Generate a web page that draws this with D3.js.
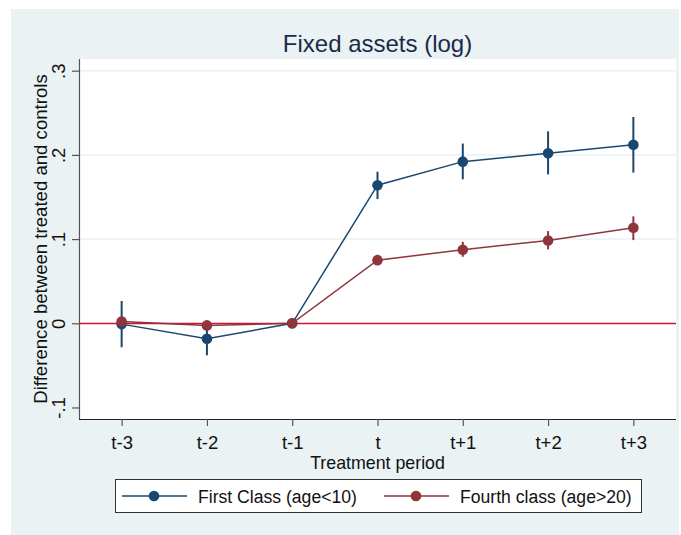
<!DOCTYPE html>
<html>
<head>
<meta charset="utf-8">
<script src="https://cdn.jsdelivr.net/npm/d3@7"></script>
<style>
  html, body { margin: 0; padding: 0; background: #ffffff; }
  svg { display: block; font-family: "Liberation Sans", Arial, sans-serif; }
</style>
</head>
<body>
<svg id="chart" width="681" height="535"></svg>
<script>
// ---------- data ----------
const periods = ["t-3", "t-2", "t-1", "t", "t+1", "t+2", "t+3"];
const firstClass     = [-0.001, -0.0185, 0.000, 0.164, 0.192, 0.202, 0.212];
const firstClassLo   = [-0.0285, -0.038, 0.000, 0.1475, 0.171, 0.1768, 0.179];
const firstClassHi   = [0.0265, 0.001, 0.000, 0.180, 0.2135, 0.228, 0.245];
const fourthClass    = [0.002, -0.0025, 0.000, 0.075, 0.0873, 0.0984, 0.1134];
const fourthClassLo  = [-0.001, -0.005, 0.000, 0.0715, 0.079, 0.0878, 0.0988];
const fourthClassHi  = [0.005, 0.000, 0.000, 0.0785, 0.0968, 0.1095, 0.127];
const yTicks = [-0.1, 0, 0.1, 0.2, 0.3];
const yTickLabels = ["-.1", "0", ".1", ".2", ".3"];
const seriesNames = ["First Class (age<10)", "Fourth class (age>20)"];

// ---------- layout ----------
const svg = d3.select("#chart");
const BG = "#eaf2f3";
const BLUE = "#1a476f";
const RED = "#90353b";
const ZERO = "#d0123a";
const plot = { left: 79, top: 59, right: 676, bottom: 419 };

// outer background
svg.append("rect").attr("x", 11).attr("y", 9).attr("width", 668).attr("height", 526).attr("fill", BG);
// plot region
svg.append("rect").attr("x", plot.left).attr("y", plot.top)
  .attr("width", plot.right - plot.left).attr("height", plot.bottom - plot.top).attr("fill", "#ffffff");

const x = d3.scalePoint().domain(periods).range([plot.left, plot.right]).padding(0.5);
const y = d3.scaleLinear().domain([-0.1137, 0.3139]).range([plot.bottom, plot.top]);

// gridlines
svg.append("g").selectAll("line").data(yTicks.filter(d => d > 0)).join("line")
  .attr("x1", plot.left).attr("x2", plot.right)
  .attr("y1", d => y(d)).attr("y2", d => y(d))
  .attr("stroke", BG).attr("stroke-width", 1.5);

// zero line
const y0 = Math.floor(y(0)) + 0.5;
svg.append("line").attr("x1", plot.left).attr("x2", plot.right)
  .attr("y1", y0).attr("y2", y0).attr("stroke", ZERO).attr("stroke-width", 1.6);

// axes
const yAxis = d3.axisLeft(y).tickValues(yTicks).tickSize(7)
  .tickFormat((d, i) => yTickLabels[i]);
const gy = svg.append("g").attr("transform", `translate(${plot.left},0)`).call(yAxis);
gy.select(".domain").attr("stroke", "#555").attr("stroke-width", 1.2).attr("d", `M0.5,${plot.top}V${plot.bottom}`);
gy.selectAll(".tick line").attr("stroke", "#555").attr("stroke-width", 1.2);
gy.selectAll(".tick text")
  .attr("transform", "rotate(-90)")
  .attr("x", 0).attr("y", -14).attr("dy", 0)
  .attr("text-anchor", "middle")
  .attr("font-size", 18.5).attr("fill", "#111")
  .attr("font-family", "Liberation Sans, Arial, sans-serif");

const xAxis = d3.axisBottom(x).tickSize(7);
const gx = svg.append("g").attr("transform", `translate(0,${plot.bottom})`).call(xAxis);
gx.select(".domain").attr("stroke", "#222").attr("stroke-width", 1.2).attr("d", `M${plot.left},0.5H${plot.right}`);
gx.selectAll(".tick line").attr("stroke", "#555").attr("stroke-width", 1.2);
gx.selectAll(".tick text").attr("y", 30).attr("dy", 0)
  .attr("font-size", 18.5).attr("fill", "#111")
  .attr("font-family", "Liberation Sans, Arial, sans-serif");

// axis titles
svg.append("text").attr("x", (plot.left + plot.right) / 2).attr("y", 469)
  .attr("text-anchor", "middle").attr("font-size", 17.8).attr("fill", "#111")
  .text("Treatment period");
svg.append("text").attr("transform", `translate(47,${(plot.top + plot.bottom) / 2}) rotate(-90)`)
  .attr("text-anchor", "middle").attr("font-size", 18.6).attr("fill", "#111")
  .text("Difference between treated and controls");

// title
svg.append("text").attr("x", (plot.left + plot.right) / 2).attr("y", 52)
  .attr("text-anchor", "middle").attr("font-size", 24).attr("fill", "#1a2a4c")
  .text("Fixed assets (log)");

// series
function drawSeries(vals, lo, hi, color) {
  const g = svg.append("g");
  g.selectAll("line.ci").data(periods).join("line").attr("class", "ci")
    .attr("x1", d => x(d)).attr("x2", d => x(d))
    .attr("y1", (d, i) => y(lo[i])).attr("y2", (d, i) => y(hi[i]))
    .attr("stroke", color).attr("stroke-width", 2);
  const line = d3.line().x((d, i) => x(periods[i])).y(d => y(d));
  g.append("path").attr("d", line(vals)).attr("fill", "none")
    .attr("stroke", color).attr("stroke-width", 1.5);
  g.selectAll("circle").data(vals).join("circle")
    .attr("cx", (d, i) => x(periods[i])).attr("cy", d => y(d))
    .attr("r", 5.3).attr("fill", color);
}
drawSeries(firstClass, firstClassLo, firstClassHi, BLUE);
drawSeries(fourthClass, fourthClassLo, fourthClassHi, RED);

// legend
const lg = svg.append("g");
lg.append("rect").attr("x", 115.5).attr("y", 479.5).attr("width", 526).attr("height", 33)
  .attr("fill", "#ffffff").attr("stroke", "#333").attr("stroke-width", 1);
const legendItems = [
  { name: seriesNames[0], color: BLUE, x0: 122 },
  { name: seriesNames[1], color: RED, x0: 384 }
];
legendItems.forEach(it => {
  lg.append("line").attr("x1", it.x0).attr("x2", it.x0 + 65).attr("y1", 496).attr("y2", 496)
    .attr("stroke", it.color).attr("stroke-width", 1.5);
  lg.append("circle").attr("cx", it.x0 + 32).attr("cy", 496).attr("r", 5.3).attr("fill", it.color);
  lg.append("text").attr("x", it.x0 + 76).attr("y", 503).attr("font-size", 17.6).attr("fill", "#111")
    .text(it.name);
});
</script>
</body>
</html>
